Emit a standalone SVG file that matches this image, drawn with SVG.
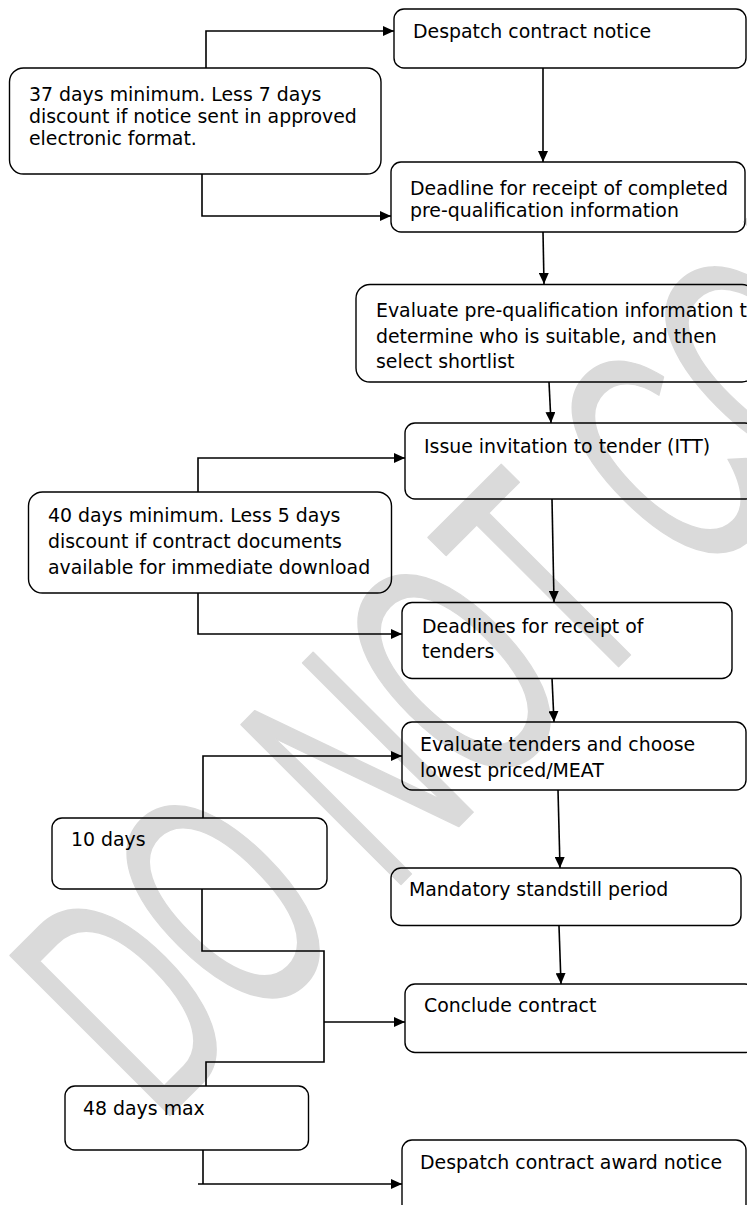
<svg xmlns="http://www.w3.org/2000/svg" width="747" height="1205" viewBox="0 0 747 1205">
<style>
.box{fill:none;stroke:#000;stroke-width:1.4}
.t{font-family:"DejaVu Sans",Verdana,sans-serif;font-size:18.9px;fill:#000}
.c{fill:none;stroke:#000;stroke-width:1.6}
.wm{font-family:"Liberation Sans",Arial,sans-serif;font-size:328px;fill:#dadada;stroke:#dadada;stroke-width:2;stroke-linejoin:round}
</style>
<defs>
<marker id="ah" markerUnits="userSpaceOnUse" markerWidth="12" markerHeight="10" refX="11" refY="5" orient="auto">
<path d="M0,0 L11,5 L0,10 z" fill="#000"/>
</marker>
</defs>
<rect width="747" height="1205" fill="#fff"/>
<g id="watermark">
<text class="wm" transform="translate(159,1126) rotate(-45) scale(0.56,1)">DO NOT COPY</text>
</g>
<g id="connectors">
<path class="c" d="M206,68 V31 H394" marker-end="url(#ah)"/>
<path class="c" d="M543,68 V162" marker-end="url(#ah)"/>
<path class="c" d="M202,174 V216 H391" marker-end="url(#ah)"/>
<path class="c" d="M543,232 L544,284" marker-end="url(#ah)"/>
<path class="c" d="M549,382 L551,423" marker-end="url(#ah)"/>
<path class="c" d="M198,492 V458 H405" marker-end="url(#ah)"/>
<path class="c" d="M552,499 L554,602" marker-end="url(#ah)"/>
<path class="c" d="M198,593 V634 H402" marker-end="url(#ah)"/>
<path class="c" d="M552,678 L554,722" marker-end="url(#ah)"/>
<path class="c" d="M203,818 V756 H402" marker-end="url(#ah)"/>
<path class="c" d="M558,790 L560,868" marker-end="url(#ah)"/>
<path class="c" d="M559,926 L561,984" marker-end="url(#ah)"/>
<path class="c" d="M202,889 V951 H324 V1062 H206 V1086"/>
<path class="c" d="M324,1022 H405" marker-end="url(#ah)"/>
<path class="c" d="M203,1150 V1184"/>
<path class="c" d="M198,1184 H402" marker-end="url(#ah)"/>
</g>
<g id="n1">
<rect class="box" x="394" y="9" width="352" height="59" rx="10"/>
<text class="t" x="413" y="38">Despatch contract notice</text>
</g>
<g id="n2">
<rect class="box" x="9.5" y="68" width="371.5" height="106" rx="14"/>
<text class="t" x="29" y="101">37 days minimum. Less 7 days</text>
<text class="t" x="29" y="123">discount if notice sent in approved</text>
<text class="t" x="29" y="145">electronic format.</text>
</g>
<g id="n3">
<rect class="box" x="391" y="162" width="354" height="70" rx="10"/>
<text class="t" x="410" y="195">Deadline for receipt of completed</text>
<text class="t" x="410" y="217">pre-qualification information</text>
</g>
<g id="n4">
<rect class="box" x="356" y="284.5" width="400" height="97.5" rx="14"/>
<text class="t" x="376" y="317">Evaluate pre-qualification information t</text>
<text class="t" x="376" y="343">determine who is suitable, and then</text>
<text class="t" x="376" y="368">select shortlist</text>
</g>
<g id="n5">
<rect class="box" x="405" y="423" width="350" height="76" rx="10"/>
<text class="t" x="424" y="453">Issue invitation to tender (ITT)</text>
</g>
<g id="n6">
<rect class="box" x="28.5" y="492" width="363" height="101" rx="14"/>
<text class="t" x="48" y="522">40 days minimum. Less 5 days</text>
<text class="t" x="48" y="548">discount if contract documents</text>
<text class="t" x="48" y="574">available for immediate download</text>
</g>
<g id="n7">
<rect class="box" x="402" y="602.5" width="330" height="76" rx="10"/>
<text class="t" x="422" y="633">Deadlines for receipt of</text>
<text class="t" x="422" y="658">tenders</text>
</g>
<g id="n8">
<rect class="box" x="402" y="722" width="344" height="68" rx="10"/>
<text class="t" x="420" y="751">Evaluate tenders and choose</text>
<text class="t" x="420" y="777">lowest priced/MEAT</text>
</g>
<g id="n9">
<rect class="box" x="52" y="818" width="275" height="71" rx="10"/>
<text class="t" x="71" y="846">10 days</text>
</g>
<g id="n10">
<rect class="box" x="391" y="868" width="350" height="57.5" rx="10"/>
<text class="t" x="409" y="896">Mandatory standstill period</text>
</g>
<g id="n11">
<rect class="box" x="405" y="984" width="350" height="68.5" rx="10"/>
<text class="t" x="424" y="1012">Conclude contract</text>
</g>
<g id="n12">
<rect class="box" x="65" y="1086" width="243.5" height="64" rx="10"/>
<text class="t" x="83" y="1115">48 days max</text>
</g>
<g id="n13">
<rect class="box" x="402" y="1140" width="344" height="80" rx="10"/>
<text class="t" x="420" y="1169">Despatch contract award notice</text>
</g>
</svg>
